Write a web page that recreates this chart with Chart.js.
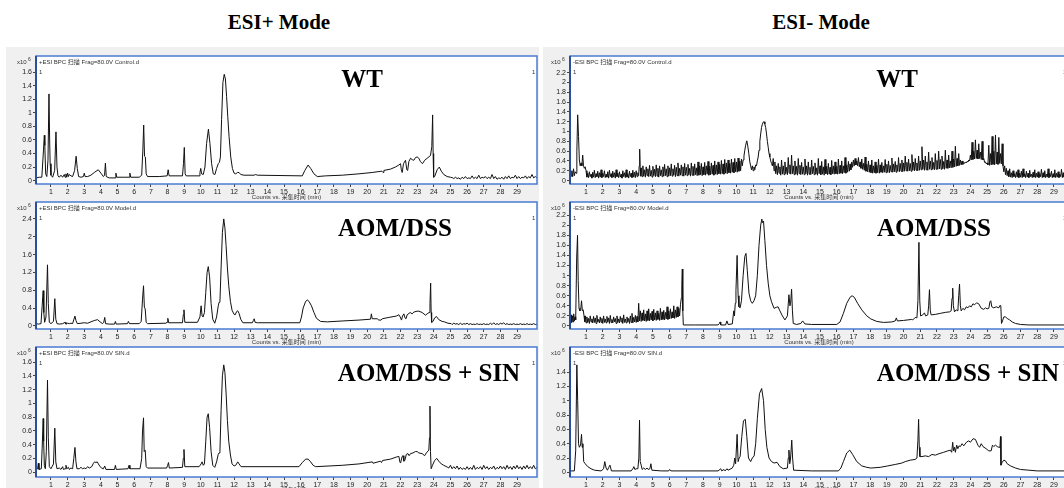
<!DOCTYPE html>
<html>
<head>
<meta charset="utf-8">
<script src="https://cdn.jsdelivr.net/npm/chart.js@4.4.1/dist/chart.umd.min.js"></script>
<style>
html, body { margin:0; padding:0; background:#fff; overflow:hidden; }
#page { position:relative; width:1064px; height:488px; overflow:hidden; }
.bg { position:absolute; background:#f0f0f0; }
.panel { position:absolute; }
.mode { position:absolute; top:22px; transform:translate(-50%,-50%); font:bold 21px "Liberation Serif", serif; color:#000; white-space:nowrap; }
.label { position:absolute; transform:translate(-50%,-50%); font:bold 25px "Liberation Serif", serif; color:#000; white-space:nowrap; }
</style>
</head>
<body>
<div id="page">
	<div class="bg" style="left:6px;top:47px;width:533px;height:441px"></div>
	<div class="bg" style="left:543px;top:47px;width:521px;height:441px"></div>
	<div class="mode" style="left:279px">ESI+ Mode</div>
	<div class="mode" style="left:821px">ESI- Mode</div>

	<canvas id="pos-wt" class="panel"></canvas>
	<canvas id="pos-aom" class="panel"></canvas>
	<canvas id="pos-sin" class="panel"></canvas>
	<canvas id="neg-wt" class="panel"></canvas>
	<canvas id="neg-aom" class="panel"></canvas>
	<canvas id="neg-sin" class="panel"></canvas>

	<div class="label" style="left:362px;top:79px">WT</div>
	<div class="label" style="left:395px;top:228px">AOM/DSS</div>
	<div class="label" style="left:429px;top:373px">AOM/DSS + SIN</div>
	<div class="label" style="left:897px;top:79px">WT</div>
	<div class="label" style="left:934px;top:228px">AOM/DSS</div>
	<div class="label" style="left:968px;top:373px">AOM/DSS + SIN</div>
</div>

<script>
// retention time (min) / intensity (x10^6 counts)
var timeTicks = [1,2,3,4,5,6,7,8,9,10,11,12,13,14,15,16,17,18,19,20,21,22,23,24,25,26,27,28,29];
var yTicks14 = [0,0.2,0.4,0.6,0.8,1,1.2,1.4];
var yTicks16 = [0,0.2,0.4,0.6,0.8,1,1.2,1.4,1.6];
var yTicks22 = [0,0.2,0.4,0.6,0.8,1,1.2,1.4,1.6,1.8,2,2.2];
var yTicks24 = [0,0.2,0.4,0.6,0.8,1,1.2,1.4,1.6,1.8,2,2.2,2.4];

var esiPosWT = [
	[0.1,0.04],[0.3,0.05],[0.45,0.05],[0.55,0.45],[0.6,0.67],[0.63,0.52],[0.68,0.1],[0.75,0.06],[0.82,0.3],[0.88,1.28],[0.92,0.6],[0.95,0.25],
	[1.0,0.08],[1.1,0.05],[1.22,0.15],[1.3,0.72],[1.36,0.2],[1.42,0.07],[1.5,0.05],[1.6,0.08],[1.7,0.05],[1.8,0.09],[1.85,0.05],[1.9,0.1],[1.95,0.05],
	[2.0,0.11],[2.05,0.06],[2.1,0.09],[2.2,0.07],[2.3,0.06],[2.42,0.15],[2.51,0.36],[2.58,0.18],[2.66,0.06],[2.8,0.05],[2.95,0.06],[3.0,0.11],[3.05,0.06],
	[3.2,0.06],[3.4,0.08],[3.6,0.12],[3.84,0.16],[4.0,0.11],[4.15,0.06],[4.22,0.08],[4.27,0.26],[4.32,0.06],[4.5,0.04],[4.85,0.04],[4.9,0.11],[4.95,0.05],
	[5.4,0.05],[5.7,0.05],[5.74,0.11],[5.79,0.05],[6.3,0.05],[6.45,0.08],[6.52,0.45],[6.57,0.82],[6.62,0.36],[6.67,0.35],[6.72,0.1],[6.8,0.06],
	[7.5,0.06],[7.98,0.07],[8.04,0.16],[8.1,0.07],[8.9,0.07],[8.96,0.25],[9.01,0.49],[9.06,0.1],[9.12,0.07],[9.9,0.07],[9.95,0.12],[10.0,0.18],[10.05,0.1],
	[10.15,0.09],[10.25,0.2],[10.35,0.55],[10.46,0.76],[10.55,0.55],[10.65,0.25],[10.75,0.1],[10.85,0.09],[10.95,0.18],[11.05,0.25],[11.12,0.27],[11.18,0.35],
	[11.25,0.9],[11.33,1.45],[11.41,1.57],[11.48,1.5],[11.55,1.24],[11.62,0.95],[11.7,0.65],[11.8,0.35],[11.9,0.18],[12.0,0.11],[12.1,0.1],[12.2,0.12],
	[12.3,0.12],[12.4,0.09],[12.6,0.08],[13.2,0.08],[13.3,0.09],[13.4,0.08],[16.1,0.07],[16.25,0.15],[16.45,0.23],[16.6,0.18],[16.8,0.1],[17.0,0.06],
	[17.5,0.07],[18.5,0.08],[19.5,0.1],[20.3,0.12],[20.88,0.14],[20.95,0.12],[21.0,0.15],[21.4,0.17],[21.69,0.2],[21.9,0.23],[22.0,0.25],[22.05,0.16],
	[22.1,0.12],[22.18,0.25],[22.3,0.3],[22.38,0.16],[22.43,0.15],[22.5,0.28],[22.6,0.33],[22.7,0.31],[22.8,0.3],[22.9,0.34],[23.0,0.35],[23.1,0.33],
	[23.2,0.28],[23.32,0.25],[23.45,0.3],[23.6,0.33],[23.8,0.37],[23.88,0.5],[23.93,0.97],[23.96,0.4],[23.99,0.05],[24.05,0.06],[24.2,0.16],[24.33,0.2],
	[24.45,0.14],[24.6,0.09],[24.8,0.06],[25.0,0.05],[25.15,0.04],
	[25.2,0.03],[25.3,0.05],[25.4,0.03],[25.5,0.04],[25.6,0.02],[25.7,0.05],[25.8,0.03],[25.9,0.06],[26.0,0.03],[26.1,0.04],[26.2,0.03],[26.3,0.07],
	[26.4,0.03],[26.5,0.05],[26.6,0.03],[26.7,0.08],[26.8,0.03],[26.9,0.05],[27.0,0.04],[27.1,0.06],[27.2,0.03],[27.3,0.05],[27.4,0.03],[27.5,0.09],
	[27.6,0.03],[27.7,0.06],[27.8,0.02],[27.9,0.04],[28.0,0.03],[28.1,0.05],[28.2,0.02],[28.3,0.06],[28.4,0.03],[28.5,0.07],[28.6,0.03],[28.7,0.05],
	[28.8,0.04],[28.9,0.08],[29.0,0.03],[29.1,0.06],[29.2,0.03],[29.3,0.05],[29.4,0.04],[29.5,0.07],[29.6,0.03],[29.7,0.06],[29.8,0.04],[29.9,0.09],
	[30.0,0.04],[30.1,0.06],[30.2,0.04]
];

var esiPosAOM = [
	[0.1,0.05],[0.25,0.04],[0.4,0.05],[0.47,0.45],[0.53,0.79],[0.57,0.3],[0.62,0.08],[0.7,0.2],[0.79,1.37],[0.84,0.5],[0.9,0.08],[1.0,0.05],
	[1.15,0.1],[1.23,0.61],[1.29,0.15],[1.36,0.05],[1.5,0.04],[1.7,0.05],[1.85,0.08],[1.9,0.04],[2.0,0.06],[2.1,0.05],[2.2,0.06],[2.3,0.05],
	[2.38,0.15],[2.44,0.22],[2.5,0.12],[2.58,0.05],[2.8,0.06],[3.0,0.07],[3.2,0.06],[3.4,0.09],[3.6,0.12],[3.8,0.14],[3.95,0.09],[4.1,0.05],
	[4.17,0.08],[4.23,0.19],[4.28,0.05],[4.5,0.04],[4.82,0.04],[4.87,0.1],[4.92,0.04],[5.6,0.05],[5.65,0.1],[5.72,0.05],[6.3,0.05],[6.42,0.1],
	[6.5,0.6],[6.56,0.9],[6.61,0.42],[6.66,0.38],[6.72,0.08],[6.8,0.05],[7.9,0.06],[7.98,0.08],[8.02,0.17],[8.07,0.07],[8.9,0.07],[8.95,0.25],
	[8.99,0.36],[9.04,0.08],[9.8,0.08],[9.95,0.2],[10.02,0.45],[10.08,0.22],[10.14,0.2],[10.22,0.3],[10.3,0.75],[10.38,1.2],[10.45,1.33],[10.53,1.1],
	[10.62,0.5],[10.72,0.15],[10.84,0.06],[10.95,0.2],[11.05,0.45],[11.1,0.53],[11.15,0.55],[11.22,1.3],[11.3,2.1],[11.38,2.4],[11.45,2.2],[11.52,1.8],
	[11.6,1.3],[11.68,0.9],[11.78,0.55],[11.88,0.35],[12.0,0.26],[12.07,0.25],[12.15,0.32],[12.22,0.34],[12.3,0.28],[12.4,0.15],[12.53,0.07],[13.1,0.07],
	[13.16,0.12],[13.21,0.16],[13.26,0.08],[13.4,0.07],[15.95,0.07],[16.05,0.2],[16.15,0.4],[16.3,0.55],[16.4,0.58],[16.5,0.55],[16.65,0.45],[16.8,0.3],
	[16.95,0.17],[17.2,0.1],[17.6,0.09],[18.5,0.11],[19.5,0.13],[20.2,0.15],[20.25,0.27],[20.3,0.16],[20.6,0.16],[20.7,0.13],[20.83,0.13],[20.9,0.16],
	[21.3,0.19],[21.75,0.22],[21.9,0.25],[21.98,0.2],[22.06,0.13],[22.12,0.22],[22.2,0.27],[22.27,0.18],[22.33,0.16],[22.4,0.25],[22.58,0.3],[22.7,0.27],
	[22.8,0.31],[22.99,0.33],[23.1,0.33],[23.3,0.3],[23.5,0.24],[23.6,0.27],[23.72,0.3],[23.77,0.5],[23.81,0.96],[23.84,0.3],[23.87,0.08],[23.95,0.1],
	[24.05,0.18],[24.16,0.21],[24.3,0.14],[24.5,0.1],[24.64,0.09],[24.85,0.06],[25.05,0.05],
	[25.1,0.03],[25.2,0.06],[25.3,0.04],[25.4,0.05],[25.5,0.03],[25.6,0.06],[25.7,0.03],[25.8,0.05],[25.9,0.04],[26.0,0.06],[26.1,0.03],[26.2,0.05],
	[26.3,0.03],[26.4,0.04],[26.5,0.03],[26.6,0.05],[26.7,0.03],[26.8,0.04],[26.9,0.03],[27.0,0.05],[27.1,0.03],[27.2,0.04],[27.3,0.03],[27.4,0.06],
	[27.5,0.03],[27.6,0.07],[27.7,0.03],[27.8,0.05],[27.9,0.03],[28.0,0.06],[28.1,0.04],[28.2,0.07],[28.3,0.03],[28.4,0.05],[28.5,0.03],[28.6,0.04],
	[28.7,0.03],[28.8,0.05],[28.9,0.03],[29.0,0.04],[29.1,0.03],[29.2,0.05],[29.3,0.03],[29.4,0.04],[29.5,0.03],[29.6,0.05],[29.7,0.03],[29.8,0.04],
	[29.9,0.03],[30.0,0.05],[30.1,0.03],[30.2,0.04]
];

var esiPosSIN = [
	[0.1,0.04],[0.2,0.05],[0.24,0.13],[0.28,0.04],[0.42,0.05],[0.47,0.35],[0.53,0.78],[0.56,0.45],[0.6,0.1],[0.66,0.05],[0.72,0.3],[0.79,1.34],
	[0.84,0.5],[0.9,0.08],[1.0,0.05],[1.15,0.12],[1.23,0.64],[1.29,0.15],[1.36,0.05],[1.5,0.06],[1.6,0.04],[1.7,0.08],[1.75,0.04],[1.85,0.05],
	[1.9,0.1],[1.95,0.05],[2.05,0.07],[2.1,0.04],[2.2,0.06],[2.3,0.05],[2.37,0.2],[2.44,0.36],[2.5,0.15],[2.56,0.05],[2.7,0.05],[2.8,0.07],
	[2.9,0.05],[3.0,0.06],[3.1,0.05],[3.2,0.08],[3.3,0.06],[3.45,0.08],[3.55,0.13],[3.62,0.15],[3.7,0.14],[3.78,0.15],[3.85,0.12],[3.95,0.08],
	[4.05,0.06],[4.15,0.05],[4.23,0.09],[4.3,0.04],[4.82,0.04],[4.87,0.1],[4.92,0.04],[5.63,0.05],[5.69,0.1],[5.74,0.05],[6.35,0.05],[6.45,0.2],
	[6.5,0.6],[6.56,0.79],[6.6,0.3],[6.66,0.32],[6.72,0.08],[6.8,0.06],[7.95,0.06],[8.01,0.1],[8.06,0.14],[8.11,0.06],[8.9,0.07],[8.95,0.2],
	[8.99,0.33],[9.04,0.08],[9.9,0.08],[10.02,0.12],[10.08,0.15],[10.15,0.1],[10.22,0.12],[10.3,0.45],[10.38,0.8],[10.45,0.85],[10.53,0.65],[10.62,0.3],
	[10.72,0.1],[10.84,0.07],[10.95,0.15],[11.05,0.26],[11.1,0.28],[11.15,0.3],[11.22,0.9],[11.3,1.4],[11.38,1.56],[11.45,1.45],[11.52,1.15],[11.6,0.75],
	[11.68,0.45],[11.78,0.25],[11.88,0.12],[12.0,0.09],[12.1,0.1],[12.22,0.15],[12.3,0.12],[12.42,0.08],[15.9,0.08],[16.1,0.14],[16.3,0.19],[16.45,0.19],
	[16.6,0.15],[16.75,0.1],[16.9,0.08],[18.5,0.1],[19.5,0.12],[20.31,0.15],[20.35,0.13],[20.8,0.16],[20.86,0.14],[20.92,0.17],[21.4,0.19],[21.75,0.22],
	[21.9,0.23],[21.97,0.14],[22.02,0.15],[22.1,0.23],[22.15,0.24],[22.2,0.16],[22.26,0.17],[22.35,0.26],[22.45,0.27],[22.52,0.24],[22.6,0.27],[22.75,0.28],
	[22.89,0.3],[23.0,0.3],[23.1,0.28],[23.3,0.27],[23.45,0.24],[23.55,0.28],[23.7,0.32],[23.74,0.5],[23.77,0.96],[23.8,0.3],[23.84,0.05],[23.92,0.1],
	[24.05,0.17],[24.18,0.2],[24.3,0.16],[24.45,0.12],[24.6,0.1],[24.84,0.07],
	[24.9,0.06],[25.0,0.1],[25.1,0.05],[25.2,0.08],[25.3,0.05],[25.4,0.09],[25.5,0.04],[25.6,0.07],[25.7,0.04],[25.8,0.06],[25.9,0.04],[26.0,0.08],
	[26.1,0.04],[26.2,0.07],[26.3,0.04],[26.4,0.1],[26.5,0.04],[26.6,0.07],[26.7,0.05],[26.8,0.08],[26.9,0.04],[27.0,0.1],[27.1,0.05],[27.2,0.08],
	[27.3,0.04],[27.4,0.07],[27.5,0.05],[27.6,0.09],[27.7,0.04],[27.8,0.07],[27.9,0.05],[28.0,0.09],[28.1,0.05],[28.2,0.08],[28.3,0.04],[28.4,0.1],
	[28.5,0.05],[28.6,0.08],[28.7,0.04],[28.8,0.09],[28.9,0.05],[29.0,0.1],[29.1,0.05],[29.2,0.08],[29.3,0.04],[29.4,0.09],[29.5,0.05],[29.6,0.1],
	[29.7,0.05],[29.8,0.08],[29.9,0.05],[30.0,0.1],[30.1,0.05],[30.2,0.07]
];

var esiNegWT = [
	[0.0,0.12],[0.05,0.22],[0.1,0.09],[0.15,0.2],[0.2,0.08],[0.25,0.24],[0.3,0.1],[0.35,0.18],[0.4,0.15],[0.45,0.6],[0.5,1.34],[0.55,0.9],[0.6,0.42],[0.65,0.3],[0.7,0.36],[0.75,0.3],[0.8,0.52],[0.85,0.3],[0.9,0.25],[0.95,0.28],
	[1.0,0.2],[1.05,0.07],[1.1,0.15],[1.15,0.06],[1.2,0.18],[1.25,0.08],[1.3,0.13],[1.35,0.05],[1.4,0.17],[1.45,0.07],[1.5,0.21],[1.55,0.06],[1.6,0.14],[1.65,0.08],[1.7,0.19],[1.75,0.05],[1.8,0.16],[1.85,0.07],[1.9,0.22],[1.95,0.06],
	[2.0,0.15],[2.05,0.08],[2.1,0.2],[2.15,0.06],[2.2,0.13],[2.25,0.07],[2.3,0.18],[2.35,0.05],[2.4,0.21],[2.45,0.08],[2.5,0.14],[2.55,0.06],[2.6,0.19],[2.65,0.07],[2.7,0.16],[2.75,0.05],[2.8,0.22],[2.85,0.08],[2.9,0.15],[2.95,0.06],
	[3.0,0.18],[3.05,0.07],[3.1,0.13],[3.15,0.05],[3.2,0.2],[3.25,0.08],[3.3,0.16],[3.35,0.06],[3.4,0.22],[3.45,0.07],[3.5,0.14],[3.55,0.05],[3.6,0.19],[3.65,0.08],[3.7,0.15],[3.75,0.06],[3.8,0.21],[3.85,0.07],[3.9,0.17],[3.95,0.06],
	[4.0,0.2],[4.05,0.08],[4.1,0.16],[4.15,0.1],[4.18,0.3],[4.21,0.64],[4.24,0.25],[4.27,0.09],[4.3,0.26],[4.35,0.08],[4.4,0.3],[4.45,0.09],[4.5,0.22],[4.55,0.07],[4.6,0.28],[4.65,0.1],[4.7,0.24],[4.75,0.08],[4.8,0.31],[4.85,0.09],[4.9,0.21],[4.95,0.07],
	[5.0,0.29],[5.05,0.1],[5.1,0.23],[5.15,0.08],[5.2,0.32],[5.25,0.09],[5.3,0.25],[5.35,0.07],[5.4,0.3],[5.45,0.1],[5.5,0.22],[5.55,0.08],[5.6,0.28],[5.65,0.09],[5.7,0.33],[5.75,0.1],[5.8,0.24],[5.85,0.08],[5.9,0.3],[5.95,0.09],
	[6.0,0.26],[6.05,0.1],[6.1,0.34],[6.15,0.09],[6.2,0.24],[6.25,0.11],[6.3,0.31],[6.35,0.08],[6.4,0.27],[6.45,0.1],[6.5,0.36],[6.55,0.09],[6.6,0.25],[6.65,0.11],[6.7,0.32],[6.75,0.1],[6.8,0.28],[6.85,0.09],[6.9,0.35],[6.95,0.11],
	[7.0,0.27],[7.05,0.1],[7.1,0.33],[7.15,0.12],[7.2,0.25],[7.25,0.09],[7.3,0.36],[7.35,0.11],[7.4,0.29],[7.45,0.1],[7.5,0.34],[7.55,0.12],[7.6,0.26],[7.65,0.1],[7.7,0.38],[7.75,0.11],[7.8,0.3],[7.85,0.12],[7.9,0.35],[7.95,0.1],
	[8.0,0.28],[8.05,0.12],[8.1,0.37],[8.15,0.11],[8.2,0.3],[8.25,0.13],[8.3,0.39],[8.35,0.11],[8.4,0.29],[8.45,0.12],[8.5,0.36],[8.55,0.13],[8.6,0.31],[8.65,0.11],[8.7,0.4],[8.75,0.13],[8.8,0.32],[8.85,0.12],[8.9,0.38],[8.95,0.14],
	[9.0,0.33],[9.05,0.13],[9.1,0.41],[9.15,0.14],[9.2,0.34],[9.25,0.13],[9.3,0.43],[9.35,0.15],[9.4,0.36],[9.45,0.14],[9.5,0.42],[9.55,0.16],[9.6,0.35],[9.65,0.15],[9.7,0.44],[9.75,0.17],[9.8,0.37],[9.85,0.16],[9.9,0.45],[9.95,0.18],
	[10.0,0.38],[10.05,0.17],[10.1,0.46],[10.15,0.19],[10.2,0.4],[10.25,0.2],[10.3,0.44],[10.35,0.3],[10.4,0.42],[10.45,0.5],[10.5,0.62],[10.55,0.72],[10.62,0.81],[10.68,0.7],[10.74,0.55],[10.8,0.38],[10.85,0.3],[10.9,0.22],[10.95,0.3],[11.0,0.2],[11.05,0.28],[11.1,0.22],
	[11.15,0.32],[11.2,0.3],[11.25,0.4],[11.3,0.48],[11.35,0.62],[11.4,0.8],[11.45,0.95],[11.5,1.08],[11.55,1.15],[11.6,1.19],[11.65,1.2],[11.7,1.15],[11.75,1.08],[11.8,0.95],[11.85,0.8],[11.9,0.68],[11.95,0.55],[12.0,0.48],[12.05,0.4],[12.1,0.35],[12.15,0.3],[12.2,0.45],[12.25,0.2],
	[12.3,0.38],[12.35,0.14],[12.4,0.3],[12.45,0.12],[12.5,0.35],[12.55,0.15],[12.6,0.28],[12.65,0.11],[12.7,0.42],[12.75,0.13],[12.8,0.3],[12.85,0.12],[12.9,0.38],[12.95,0.14],
	[13.0,0.27],[13.05,0.12],[13.1,0.47],[13.15,0.15],[13.2,0.32],[13.25,0.13],[13.3,0.52],[13.35,0.14],[13.4,0.3],[13.45,0.12],[13.5,0.4],[13.55,0.13],[13.6,0.29],[13.65,0.11],[13.7,0.45],[13.75,0.14],[13.8,0.31],[13.85,0.12],[13.9,0.37],[13.95,0.13],
	[14.0,0.28],[14.05,0.12],[14.1,0.44],[14.15,0.14],[14.2,0.3],[14.25,0.11],[14.3,0.38],[14.35,0.13],[14.4,0.27],[14.45,0.12],[14.5,0.42],[14.55,0.14],[14.6,0.29],[14.65,0.12],[14.7,0.36],[14.75,0.13],[14.8,0.26],[14.85,0.11],[14.9,0.45],[14.95,0.14],
	[15.0,0.3],[15.05,0.12],[15.1,0.39],[15.15,0.13],[15.2,0.28],[15.25,0.11],[15.3,0.43],[15.35,0.14],[15.4,0.29],[15.45,0.12],[15.5,0.35],[15.55,0.13],[15.6,0.27],[15.65,0.12],[15.7,0.41],[15.75,0.14],[15.8,0.3],[15.85,0.13],[15.9,0.38],[15.95,0.14],
	[16.0,0.29],[16.05,0.13],[16.1,0.44],[16.15,0.14],[16.2,0.31],[16.25,0.15],[16.3,0.4],[16.35,0.14],[16.4,0.3],[16.45,0.16],[16.5,0.47],[16.55,0.15],[16.6,0.32],[16.65,0.17],[16.7,0.39],[16.75,0.19],[16.8,0.34],[16.85,0.22],[16.9,0.38],[16.95,0.27],
	[17.0,0.42],[17.05,0.3],[17.1,0.45],[17.15,0.32],[17.2,0.4],[17.25,0.3],[17.3,0.47],[17.35,0.28],[17.4,0.38],[17.45,0.25],[17.5,0.44],[17.55,0.23],[17.6,0.35],[17.65,0.21],[17.7,0.48],[17.75,0.19],[17.8,0.33],[17.85,0.18],[17.9,0.4],[17.95,0.17],
	[18.0,0.32],[18.05,0.16],[18.1,0.42],[18.15,0.15],[18.2,0.3],[18.25,0.16],[18.3,0.38],[18.35,0.15],[18.4,0.31],[18.45,0.16],[18.5,0.44],[18.55,0.15],[18.6,0.32],[18.65,0.17],[18.7,0.37],[18.75,0.16],[18.8,0.3],[18.85,0.17],[18.9,0.43],[18.95,0.16],
	[19.0,0.33],[19.05,0.17],[19.1,0.4],[19.15,0.16],[19.2,0.31],[19.25,0.18],[19.3,0.46],[19.35,0.17],[19.4,0.34],[19.45,0.18],[19.5,0.39],[19.55,0.17],[19.6,0.32],[19.65,0.19],[19.7,0.47],[19.75,0.18],[19.8,0.35],[19.85,0.19],[19.9,0.42],[19.95,0.18],
	[20.0,0.36],[20.05,0.19],[20.1,0.5],[20.15,0.2],[20.2,0.37],[20.25,0.19],[20.3,0.44],[20.35,0.2],[20.4,0.35],[20.45,0.19],[20.5,0.53],[20.55,0.21],[20.6,0.38],[20.65,0.2],[20.7,0.45],[20.75,0.21],[20.8,0.36],[20.85,0.2],[20.9,0.5],[20.95,0.21],
	[21.0,0.4],[21.05,0.22],[21.1,0.69],[21.15,0.23],[21.2,0.42],[21.25,0.21],[21.3,0.5],[21.35,0.22],[21.4,0.38],[21.45,0.21],[21.5,0.58],[21.55,0.23],[21.6,0.4],[21.65,0.22],[21.7,0.47],[21.75,0.23],[21.8,0.37],[21.85,0.22],[21.9,0.55],[21.95,0.23],
	[22.0,0.41],[22.05,0.23],[22.1,0.6],[22.15,0.24],[22.2,0.43],[22.25,0.23],[22.3,0.5],[22.35,0.24],[22.4,0.39],[22.45,0.23],[22.5,0.62],[22.55,0.25],[22.6,0.42],[22.65,0.25],[22.7,0.52],[22.75,0.26],[22.8,0.4],[22.85,0.26],[22.9,0.6],[22.95,0.27],
	[23.0,0.44],[23.05,0.28],[23.1,0.7],[23.15,0.29],[23.2,0.45],[23.25,0.3],[23.3,0.55],[23.35,0.31],[23.4,0.42],[23.45,0.32],[23.5,0.4],[23.55,0.33],[23.6,0.37],[23.65,0.35],[23.7,0.38],[23.75,0.36],[23.8,0.39],[23.85,0.38],[23.9,0.42],[23.95,0.4],
	[24.0,0.52],[24.05,0.42],[24.1,0.78],[24.15,0.43],[24.2,0.6],[24.25,0.44],[24.3,0.83],[24.35,0.45],[24.4,0.62],[24.45,0.44],[24.5,0.75],[24.55,0.45],[24.6,0.58],[24.65,0.43],[24.7,0.8],[24.75,0.42],[24.8,0.45],[24.85,0.37],[24.9,0.38],[24.95,0.34],
	[25.0,0.36],[25.05,0.32],[25.1,0.72],[25.15,0.31],[25.2,0.55],[25.25,0.32],[25.3,0.9],[25.35,0.33],[25.4,0.6],[25.45,0.32],[25.5,0.93],[25.55,0.34],[25.6,0.58],[25.65,0.33],[25.7,0.88],[25.75,0.35],[25.8,0.55],[25.85,0.34],[25.9,0.75],[25.95,0.3],[26.0,0.18],
	[26.05,0.3],[26.1,0.12],[26.15,0.25],[26.2,0.1],[26.25,0.2],[26.3,0.08],[26.35,0.24],[26.4,0.07],[26.45,0.16],[26.5,0.06],[26.55,0.2],[26.6,0.08],[26.65,0.14],[26.7,0.06],[26.75,0.18],[26.8,0.07],[26.85,0.22],[26.9,0.06],[26.95,0.15],
	[27.0,0.07],[27.05,0.19],[27.1,0.06],[27.15,0.24],[27.2,0.08],[27.25,0.14],[27.3,0.06],[27.35,0.19],[27.4,0.07],[27.45,0.15],[27.5,0.06],[27.55,0.21],[27.6,0.08],[27.65,0.13],[27.7,0.06],[27.75,0.17],[27.8,0.07],[27.85,0.22],[27.9,0.06],[27.95,0.15],
	[28.0,0.07],[28.05,0.18],[28.1,0.06],[28.15,0.14],[28.2,0.08],[28.25,0.23],[28.3,0.06],[28.35,0.16],[28.4,0.07],[28.45,0.2],[28.5,0.06],[28.55,0.13],[28.6,0.07],[28.65,0.24],[28.7,0.06],[28.75,0.15],[28.8,0.08],[28.85,0.19],[28.9,0.06],[28.95,0.14],
	[29.0,0.07],[29.05,0.22],[29.1,0.06],[29.15,0.15],[29.2,0.07],[29.25,0.18],[29.3,0.06],[29.35,0.13],[29.4,0.08],[29.45,0.23],[29.5,0.06],[29.55,0.16],[29.6,0.07],[29.65,0.2],[29.7,0.06],[29.75,0.14],[29.8,0.07],[29.85,0.19],[29.9,0.06]
];

var esiNegAOM = [
	[0.0,0.1],[0.03,0.25],[0.06,0.05],[0.1,0.22],[0.14,0.07],[0.18,0.2],[0.22,0.08],[0.26,0.24],[0.3,0.1],[0.34,0.18],[0.38,0.12],[0.44,1.35],[0.49,1.8],[0.53,0.9],
	[0.58,0.35],[0.63,0.3],[0.68,0.32],[0.73,0.5],[0.78,0.3],[0.83,0.32],[0.88,0.2],[0.92,0.08],[0.96,0.2],
	[1.0,0.06],[1.05,0.18],[1.1,0.07],[1.15,0.15],[1.2,0.05],[1.25,0.2],[1.3,0.08],[1.35,0.14],[1.4,0.06],[1.45,0.19],[1.5,0.07],[1.55,0.16],[1.6,0.05],[1.65,0.21],[1.7,0.08],[1.75,0.13],[1.8,0.06],[1.85,0.18],[1.9,0.07],[1.95,0.15],
	[2.0,0.05],[2.05,0.2],[2.1,0.07],[2.15,0.14],[2.2,0.06],[2.25,0.19],[2.3,0.08],[2.35,0.16],[2.4,0.05],[2.45,0.21],[2.5,0.07],[2.55,0.13],[2.6,0.06],[2.65,0.18],[2.7,0.08],[2.75,0.15],[2.8,0.05],[2.85,0.2],[2.9,0.07],[2.95,0.14],
	[3.0,0.06],[3.05,0.19],[3.1,0.08],[3.15,0.16],[3.2,0.05],[3.25,0.22],[3.3,0.07],[3.35,0.14],[3.4,0.06],[3.45,0.18],[3.5,0.08],[3.55,0.15],[3.6,0.05],[3.65,0.2],[3.7,0.07],[3.75,0.25],[3.8,0.06],[3.85,0.17],[3.9,0.08],[3.95,0.21],
	[4.0,0.07],[4.05,0.19],[4.1,0.08],[4.15,0.45],[4.2,0.1],[4.25,0.3],[4.3,0.09],[4.35,0.26],[4.4,0.11],[4.45,0.32],[4.5,0.1],[4.55,0.24],[4.6,0.09],[4.65,0.3],[4.7,0.11],[4.75,0.34],[4.8,0.1],[4.85,0.25],[4.9,0.12],[4.95,0.29],
	[5.0,0.1],[5.05,0.33],[5.1,0.12],[5.15,0.26],[5.2,0.11],[5.25,0.3],[5.3,0.13],[5.35,0.25],[5.4,0.11],[5.45,0.35],[5.5,0.12],[5.55,0.28],[5.6,0.13],[5.65,0.31],[5.7,0.12],[5.75,0.27],[5.8,0.14],[5.85,0.38],[5.9,0.13],[5.95,0.3],
	[6.0,0.14],[6.05,0.34],[6.1,0.15],[6.15,0.28],[6.2,0.16],[6.25,0.4],[6.3,0.15],[6.35,0.32],[6.4,0.17],[6.45,0.38],[6.5,0.18],[6.55,0.35],[6.6,0.2],[6.65,0.42],[6.7,0.55],[6.73,0.8],[6.76,1.13],[6.79,0.3],[6.82,0.02],
	[7.5,0.02],[8.9,0.02],[8.98,0.05],[9.02,0.08],[9.06,0.02],[9.35,0.02],[9.43,0.1],[9.5,0.03],[9.75,0.04],[9.84,0.3],[9.88,0.2],[9.93,0.45],
	[9.97,0.7],[10.04,1.4],[10.1,0.6],[10.15,0.38],[10.22,0.36],[10.3,0.5],[10.4,1.0],[10.5,1.38],[10.57,1.44],[10.65,1.1],[10.75,0.65],[10.85,0.5],
	[10.95,0.45],[11.05,0.5],[11.15,0.6],[11.25,1.0],[11.35,1.6],[11.45,2.0],[11.52,2.12],[11.56,2.05],[11.62,2.08],[11.7,1.7],[11.8,1.2],[11.9,0.85],
	[12.0,0.6],[12.1,0.48],[12.25,0.35],[12.38,0.37],[12.49,0.38],[12.6,0.3],[12.75,0.2],[12.9,0.12],[13.05,0.2],[13.14,0.62],[13.2,0.4],[13.24,0.45],
	[13.3,0.73],[13.35,0.3],[13.4,0.05],[13.6,0.03],[13.85,0.05],[13.96,0.1],[14.1,0.04],[14.5,0.03],[16.0,0.03],[16.2,0.08],[16.4,0.25],[16.6,0.45],
	[16.8,0.57],[16.92,0.6],[17.05,0.57],[17.25,0.45],[17.5,0.32],[17.8,0.2],[18.04,0.14],[18.4,0.09],[18.8,0.07],[19.3,0.08],[19.5,0.1],[19.57,0.16],
	[19.63,0.1],[20.0,0.11],[20.49,0.13],[20.55,0.12],[20.7,0.17],[20.8,0.16],[20.86,0.5],[20.92,1.66],[20.97,0.5],[21.02,0.2],[21.15,0.22],[21.25,0.26],
	[21.32,0.2],[21.45,0.22],[21.5,0.4],[21.55,0.72],[21.6,0.3],[21.65,0.22],[21.9,0.23],[22.2,0.25],[22.5,0.27],[22.75,0.28],[22.85,0.3],[22.9,0.55],
	[22.94,0.75],[22.98,0.4],[23.05,0.28],[23.15,0.32],[23.25,0.3],[23.3,0.6],[23.35,0.83],[23.4,0.4],[23.45,0.3],[23.55,0.35],[23.65,0.32],[23.75,0.38],
	[23.85,0.36],[23.95,0.4],[24.05,0.38],[24.15,0.44],[24.25,0.42],[24.37,0.46],[24.5,0.44],[24.65,0.35],[24.8,0.33],[24.9,0.36],[25.0,0.34],[25.1,0.35],
	[25.17,0.48],[25.22,0.5],[25.28,0.38],[25.4,0.36],[25.55,0.38],[25.7,0.36],[25.77,0.41],[25.82,0.4],[25.86,0.05],[25.92,0.1],[26.0,0.18],[26.1,0.18],
	[26.2,0.15],[26.35,0.12],[26.5,0.08],[26.7,0.05],[27.0,0.03],[27.5,0.02],[29.9,0.02]
];

var esiNegSIN = [
	[0.05,0.02],[0.3,0.02],[0.38,0.3],[0.45,1.5],[0.5,1.0],[0.55,0.4],[0.6,0.35],[0.67,0.38],[0.73,0.53],[0.77,0.35],[0.81,0.4],[0.86,0.15],
	[0.95,0.12],[1.1,0.08],[1.3,0.05],[1.5,0.03],[1.9,0.02],[2.05,0.05],[2.12,0.15],[2.2,0.06],[2.28,0.03],[2.36,0.07],[2.43,0.1],[2.52,0.02],
	[3.7,0.02],[3.8,0.05],[3.86,0.08],[3.92,0.04],[4.0,0.05],[4.1,0.05],[4.16,0.2],[4.2,0.73],[4.24,0.15],[4.3,0.1],[4.36,0.04],[4.45,0.06],
	[4.55,0.04],[4.65,0.06],[4.72,0.04],[4.82,0.05],[4.88,0.12],[4.94,0.03],[5.5,0.02],[5.95,0.02],[6.0,0.04],[6.08,0.02],[8.9,0.02],[9.06,0.05],
	[9.12,0.02],[9.25,0.04],[9.32,0.02],[9.43,0.05],[9.5,0.03],[9.75,0.06],[9.84,0.1],[9.9,0.2],[9.95,0.12],[10.04,0.53],[10.1,0.15],[10.16,0.2],
	[10.22,0.22],[10.32,0.5],[10.42,0.72],[10.53,0.74],[10.62,0.5],[10.72,0.2],[10.85,0.15],[10.95,0.2],[11.06,0.23],[11.15,0.4],[11.25,0.75],[11.38,1.1],
	[11.51,1.17],[11.62,1.0],[11.72,0.6],[11.82,0.35],[11.95,0.2],[12.1,0.15],[12.25,0.13],[12.43,0.14],[12.6,0.08],[12.8,0.05],[13.05,0.06],[13.1,0.2],
	[13.14,0.31],[13.19,0.12],[13.24,0.2],[13.31,0.45],[13.36,0.2],[13.42,0.03],[14.5,0.02],[16.1,0.02],[16.25,0.06],[16.4,0.15],[16.6,0.27],[16.78,0.31],
	[16.95,0.25],[17.2,0.15],[17.5,0.09],[17.8,0.07],[18.04,0.06],[18.6,0.07],[19.06,0.09],[19.5,0.11],[19.9,0.13],[20.1,0.15],[20.4,0.17],[20.69,0.18],
	[20.8,0.2],[20.86,0.45],[20.9,0.74],[20.94,0.35],[20.98,0.22],[21.1,0.22],[21.3,0.23],[21.5,0.22],[21.7,0.25],[21.9,0.24],[22.12,0.26],[22.4,0.28],
	[22.65,0.3],[22.8,0.31],[22.88,0.28],[22.94,0.42],[22.99,0.3],[23.05,0.35],[23.1,0.28],[23.18,0.38],[23.25,0.33],[23.32,0.37],[23.4,0.36],[23.5,0.4],
	[23.6,0.37],[23.76,0.42],[23.9,0.44],[24.0,0.42],[24.16,0.47],[24.3,0.46],[24.45,0.38],[24.55,0.35],[24.65,0.4],[24.75,0.36],[24.94,0.33],[25.1,0.3],
	[25.24,0.3],[25.32,0.38],[25.4,0.36],[25.5,0.38],[25.6,0.36],[25.7,0.35],[25.77,0.35],[25.8,0.5],[25.83,0.1],[25.9,0.14],[26.0,0.17],[26.1,0.16],
	[26.2,0.12],[26.4,0.09],[26.7,0.06],[27.0,0.04],[27.5,0.03],[28.0,0.02],[29.9,0.02]
];

var tickFont = {family: '"Liberation Sans", "DejaVu Sans", sans-serif', size: 7};

// border, header line, x10^6 and axis caption, drawn around each plot box
var panelDeco = {
	id: 'panelDeco',
	beforeDraw: function (chart) {
		var a = chart.chartArea;
		var ctx = chart.ctx;
		ctx.save();
		ctx.fillStyle = '#fff';
		ctx.fillRect(a.left, a.top, a.right - a.left, a.bottom - a.top);
		ctx.restore();
	},
	afterDraw: function (chart, args, opts) {
		var a = chart.chartArea;
		var ctx = chart.ctx;
		ctx.save();
		ctx.strokeStyle = '#4a7bd2';
		ctx.lineWidth = 1.5;
		ctx.strokeRect(a.left, a.top, a.right - a.left, a.bottom - a.top);
		ctx.strokeStyle = '#2b4f9e';
		ctx.lineWidth = 2;
		ctx.beginPath();
		ctx.moveTo(a.left, a.top);
		ctx.lineTo(a.left, a.bottom);
		ctx.stroke();

		ctx.fillStyle = '#333';
		ctx.textBaseline = 'middle';
		ctx.font = '6px "Liberation Sans", "Noto Sans CJK SC", sans-serif';
		ctx.textAlign = 'left';
		ctx.fillText(opts.header, a.left + 3, a.top + 6);
		ctx.fillText('1', a.left + 3, a.top + 16);
		ctx.fillText('1', a.right - 5, a.top + 16);
		ctx.fillText('x10', a.left - 19, a.top + 6);
		ctx.font = '5px "Liberation Sans", sans-serif';
		ctx.fillText('6', a.left - 8, a.top + 4);

		ctx.font = '6px "Liberation Sans", "Noto Sans CJK SC", sans-serif';
		ctx.textAlign = 'center';
		ctx.fillText('Counts vs. 采集时间 (min)', (a.left + a.right) / 2, a.bottom + 13);
		ctx.restore();
	}
};

function drawPanel(p) {
	var canv = document.getElementById(p.id);
	canv.width = p.width;
	canv.height = p.height;
	canv.style.left = p.left + 'px';
	canv.style.top = p.top + 'px';

	new Chart(canv, {
		type: 'line',
		data: {
			datasets: [{
				data: p.points.map(function (d) { return {x: d[0], y: d[1]}; }),
				borderColor: '#111',
				borderWidth: 1,
				pointRadius: 0,
				tension: 0
			}]
		},
		plugins: [panelDeco],
		options: {
			responsive: false,
			animation: false,
			devicePixelRatio: 1,
			layout: {padding: {top: 10, right: 2, left: 0, bottom: 0}},
			scales: {
				x: {
					type: 'linear',
					min: p.xMin,
					max: p.xMax,
					afterBuildTicks: function (s) { s.ticks = timeTicks.map(function (v) { return {value: v}; }); },
					afterFit: function (s) { s.height = 16; },
					ticks: {font: tickFont, color: '#222', padding: 1, maxRotation: 0, autoSkip: false,
						callback: function (v) { return String(v); }},
					grid: {drawOnChartArea: false, tickLength: 3, color: '#444'},
					border: {display: false}
				},
				y: {
					min: p.yMin,
					max: p.yMax,
					afterBuildTicks: function (s) { s.ticks = p.yTicks.map(function (v) { return {value: v}; }); },
					afterFit: function (s) { s.width = 30; },
					ticks: {font: tickFont, color: '#222', padding: 1,
						callback: function (v) { return String(Math.round(v * 10) / 10); }},
					grid: {drawOnChartArea: false, tickLength: 3, color: '#444'},
					border: {display: false}
				}
			},
			plugins: {
				legend: {display: false},
				tooltip: {enabled: false},
				panelDeco: {header: p.header}
			}
		}
	});
}

var panels = [
	{id: 'pos-wt', points: esiPosWT, left: 6, top: 46, width: 533, height: 154, xMin: 0.1, xMax: 30.2, yMin: -0.05, yMax: 1.84, yTicks: yTicks16, header: '+ESI BPC 扫描 Frag=80.0V Control.d'},
	{id: 'pos-aom', points: esiPosAOM, left: 6, top: 192, width: 533, height: 153, xMin: 0.1, xMax: 30.2, yMin: -0.07, yMax: 2.78, yTicks: yTicks24, header: '+ESI BPC 扫描 Frag=80.0V Model.d'},
	{id: 'pos-sin', points: esiPosSIN, left: 6, top: 337, width: 533, height: 156, xMin: 0.1, xMax: 30.2, yMin: -0.07, yMax: 1.82, yTicks: yTicks16, header: '+ESI BPC 扫描 Frag=80.0V SIN.d'},
	{id: 'neg-wt', points: esiNegWT, left: 540, top: 46, width: 530, height: 154, xMin: 0.04, xMax: 29.84, yMin: -0.07, yMax: 2.54, yTicks: yTicks22, header: '-ESI BPC 扫描 Frag=80.0V Control.d'},
	{id: 'neg-aom', points: esiNegAOM, left: 540, top: 192, width: 530, height: 153, xMin: 0.04, xMax: 29.84, yMin: -0.06, yMax: 2.46, yTicks: yTicks22, header: '-ESI BPC 扫描 Frag=80.0V Model.d'},
	{id: 'neg-sin', points: esiNegSIN, left: 540, top: 337, width: 530, height: 156, xMin: 0.04, xMax: 29.84, yMin: -0.065, yMax: 1.75, yTicks: yTicks14, header: '-ESI BPC 扫描 Frag=80.0V SIN.d'}
];

panels.forEach(drawPanel);
</script>
</body>
</html>
